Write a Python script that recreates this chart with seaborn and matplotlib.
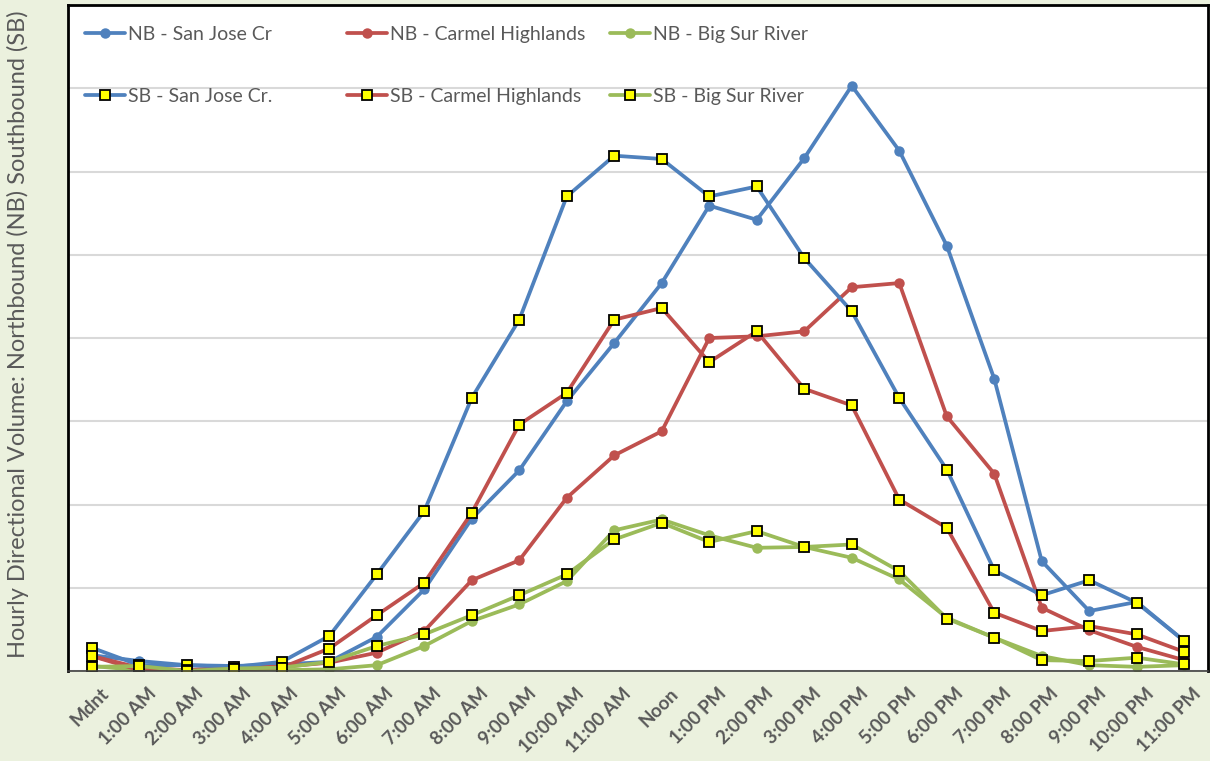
import matplotlib
matplotlib.use("Agg")
import matplotlib.pyplot as plt
import matplotlib.transforms as mtransforms
import seaborn as sns
import pandas as pd
from matplotlib.lines import Line2D
from matplotlib.legend import Legend

hours = ["Mdnt", "1:00 AM", "2:00 AM", "3:00 AM", "4:00 AM", "5:00 AM", "6:00 AM",
         "7:00 AM", "8:00 AM", "9:00 AM", "10:00 AM", "11:00 AM", "Noon", "1:00 PM",
         "2:00 PM", "3:00 PM", "4:00 PM", "5:00 PM", "6:00 PM", "7:00 PM", "8:00 PM",
         "9:00 PM", "10:00 PM", "11:00 PM"]

# hourly volumes (gridline = 100)
nb_san_jose = [19, 12, 7, 6, 8, 11, 41, 98, 183, 241, 324, 394, 466, 559, 542, 616,
               703, 625, 511, 351, 132, 72, 83, 36]
nb_carmel = [18, 4, 1, 5, 5, 10, 22, 48, 109, 133, 208, 259, 288, 400, 402, 408,
             461, 466, 306, 237, 76, 49, 29, 13]
nb_big_sur = [6, 1, 0, 0, 1, 2, 7, 30, 60, 80, 108, 169, 182, 163, 148, 149,
              136, 110, 64, 40, 18, 7, 5, 7]
sb_san_jose = [28, 7, 7, 5, 11, 42, 116, 192, 328, 422, 570, 619, 615, 570, 582, 496,
               432, 328, 242, 121, 91, 109, 82, 36]
sb_carmel = [18, 1, 1, 2, 4, 27, 67, 106, 190, 296, 334, 422, 436, 371, 408, 339,
             319, 206, 172, 70, 48, 54, 44, 23]
sb_big_sur = [5, 6, 0, 3, 4, 11, 30, 44, 67, 91, 116, 158, 178, 155, 168, 149,
              152, 120, 63, 40, 13, 12, 16, 8]

BLUE = "#4F81BD"
RED = "#C0504D"
GREEN = "#9BBB59"
GREY = "#595959"

sns.set_theme(style="white")
plt.rcParams["font.family"] = ["Lato", "DejaVu Sans"]

fig = plt.figure(figsize=(12.1, 7.61), dpi=100, facecolor="#EBF1DE")
ax = fig.add_axes([68 / 1210, 90 / 761, 1140 / 1210, 666 / 761])
ax.set_facecolor("white")

nb_style = dict(marker="o", markersize=7.5, markeredgewidth=0)
sb_style = dict(marker="s", markersize=7.5, markerfacecolor="#FFFF00",
                markeredgecolor="black", markeredgewidth=1.3)

series = [
    ("NB - San Jose Cr", nb_san_jose, BLUE, nb_style),
    ("NB - Carmel Highlands", nb_carmel, RED, nb_style),
    ("NB - Big Sur River", nb_big_sur, GREEN, nb_style),
    ("SB - San Jose Cr.", sb_san_jose, BLUE, sb_style),
    ("SB - Carmel Highlands", sb_carmel, RED, sb_style),
    ("SB - Big Sur River", sb_big_sur, GREEN, sb_style),
]

handles = {}
for label, values, color, style in series:
    df = pd.DataFrame({"hour": range(len(hours)), "volume": values})
    sns.lineplot(data=df, x="hour", y="volume", color=color, linewidth=2.7, ax=ax, **style)
    handles[label] = Line2D([], [], color=color, linewidth=2.7, **style)

ax.set_xlim(-0.5, 23.5)
ax.set_ylim(0, 800)
ax.set_yticks(range(0, 801, 100))
ax.set_yticklabels([])
ax.yaxis.grid(True, color="#D9D9D9", linewidth=1.5)
ax.set_axisbelow(True)

ax.set_xticks(range(len(hours)))
ax.set_xticklabels(hours, rotation=45, ha="right", va="top", rotation_mode="anchor",
                   fontsize=13.5, fontweight="bold", color=GREY)
ax.tick_params(axis="both", length=0)
ax.tick_params(axis="x", pad=10)
shift = mtransforms.ScaledTranslation(8 / 100, 0, fig.dpi_scale_trans)
for lbl in ax.get_xticklabels():
    lbl.set_transform(lbl.get_transform() + shift)

ax.set_xlabel("")
ax.set_ylabel("Hourly Directional Volume: Northbound (NB) Southbound (SB)",
              fontsize=17, color=GREY)
ax.yaxis.set_label_coords(-39 / 1140, 0.505)

for side in ["left", "top", "right"]:
    ax.spines[side].set_color("black")
    ax.spines[side].set_linewidth(2)
ax.spines["bottom"].set_color("#404040")
ax.spines["bottom"].set_linewidth(1.2)

# legend: one small legend per site column
columns = [
    (85, ["NB - San Jose Cr", "SB - San Jose Cr."]),
    (347, ["NB - Carmel Highlands", "SB - Carmel Highlands"]),
    (610, ["NB - Big Sur River", "SB - Big Sur River"]),
]
for x0, labels in columns:
    leg = Legend(ax, [handles[l] for l in labels], labels, loc="upper left",
                 bbox_to_anchor=(x0 / 1210, 1 - 26 / 761), bbox_transform=fig.transFigure,
                 frameon=False, fontsize=14, labelcolor=GREY, borderpad=0,
                 borderaxespad=0, handlelength=2.05, handletextpad=0.15,
                 labelspacing=2.3, numpoints=1)
    ax.add_artist(leg)

fig.savefig("out.png", dpi=100, facecolor=fig.get_facecolor())
